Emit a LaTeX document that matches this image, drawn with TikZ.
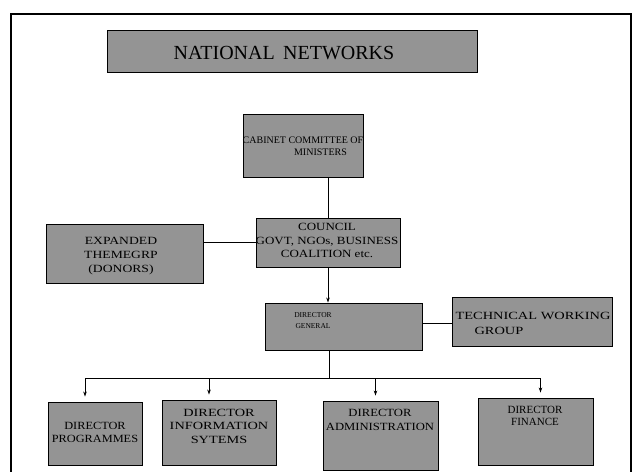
\documentclass[tikz,border=0pt]{standalone}
\usepackage{fontspec}
\usepackage{graphicx}
\setmainfont{Liberation Serif}
\usetikzlibrary{arrows.meta}
% a centred block of lines, widened horizontally by #1
\newcommand\widened[2]{\scalebox{#1}[1]{\begin{tabular}{@{}c@{}}#2\end{tabular}}}
\tikzset{
  unit/.style={draw=black, line width=0.9pt, fill=black!42, inner sep=0pt},
  txt/.style={inner sep=0pt, text=black, font=\fontsize{11}{13.5}\selectfont},
  link/.style={draw=black, line width=0.8pt},
  feed/.style={link, -{Stealth[length=5pt,width=3.5pt]}},
  frame/.style={draw=black, line width=1.6pt}
}
\begin{document}
\begin{tikzpicture}[x=1pt,y=-1pt]
  \useasboundingbox (0,0) rectangle (633,472);
  % outer frame, open at the bottom
  \draw[frame] (11,472) -- (11,14) -- (631,14) -- (631,472);

  % title banner
  \node[unit, minimum width=370pt, minimum height=42pt] (title) at (292,51) {};
  \node[txt, font=\fontsize{20}{22}\selectfont] (title-t) at (284,53) {NATIONAL\, NETWORKS};

  % boxes
  \node[unit, minimum width=120pt, minimum height=63pt] (cabinet)  at (303,145.5) {};
  \node[unit, minimum width=144pt, minimum height=49pt] (council)  at (328,242.5) {};
  \node[unit, minimum width=157pt, minimum height=59pt] (expanded) at (124.5,253.5) {};
  \node[unit, minimum width=157pt, minimum height=47pt] (dg)       at (343.5,326.5) {};
  \node[unit, minimum width=160pt, minimum height=49pt] (twg)      at (532,321.5) {};
  \node[unit, minimum width=94pt,  minimum height=63pt] (prog)     at (95,433.5) {};
  \node[unit, minimum width=114pt, minimum height=65pt] (info)     at (219,432.5) {};
  \node[unit, minimum width=115pt, minimum height=69pt] (admin)    at (380.5,435.5) {};
  \node[unit, minimum width=115pt, minimum height=67pt] (fin)      at (535.5,431.5) {};

  % box texts
  \node[txt, font=\fontsize{10}{12}\selectfont] (cabinet-t) at (303,147)
    {\widened{1}{CABINET COMMITTEE OF\\\hspace*{3.5em}MINISTERS}};
  \node[txt] (council-t) at (327,241.5)
    {\widened{1.18}{COUNCIL\\GOVT, NGOs, BUSINESS\\COALITION etc.}};
  \node[txt, font=\fontsize{11}{14}\selectfont] (expanded-t) at (121,256)
    {\widened{1.24}{EXPANDED\\THEMEGRP\\(DONORS)}};
  \node[txt, font=\fontsize{7.5}{11}\selectfont] (dg-t) at (313,320.5)
    {\widened{1}{DIRECTOR\\GENERAL}};
  \node[txt, font=\fontsize{11}{15}\selectfont] (twg-t) at (533,323.5)
    {\widened{1.31}{TECHNICAL WORKING\\GROUP\hspace*{52pt}}};
  \node[txt, font=\fontsize{11}{13}\selectfont] (prog-t) at (95,433.5)
    {\widened{1.12}{DIRECTOR\\PROGRAMMES}};
  \node[txt, font=\fontsize{11}{13.5}\selectfont] (info-t) at (219,427)
    {\widened{1.3}{DIRECTOR\\INFORMATION\\SYTEMS}};
  \node[txt, font=\fontsize{11}{14}\selectfont] (admin-t) at (380,420.5)
    {\widened{1.15}{DIRECTOR\\ADMINISTRATION}};
  \node[txt, font=\fontsize{11}{12.5}\selectfont] (fin-t) at (535,417)
    {\widened{1}{DIRECTOR\\FINANCE}};

  % connectors
  \draw[link] (council.north) -- (council.north |- cabinet.south);
  \draw[link] (expanded.east |- council.west) -- (council.west);
  \draw[feed] (council.south) -- (council.south |- dg.north);
  \draw[link] (dg.east |- 0,323) -- (twg.west |- 0,323);

  \coordinate (bus) at (329,378);
  \draw[link] (bus |- dg.south) -- (bus);
  \draw[feed, shorten >=5pt] (bus) -| ([xshift=-10pt]prog.north);
  \draw[feed, shorten >=5pt] (bus) -| ([xshift=-10pt]info.north);
  \draw[feed, shorten >=5pt] (bus) -| ([xshift=-5pt]admin.north);
  \draw[feed, shorten >=5pt] (bus) -| ([xshift=5pt]fin.north);
\end{tikzpicture}
\end{document}
